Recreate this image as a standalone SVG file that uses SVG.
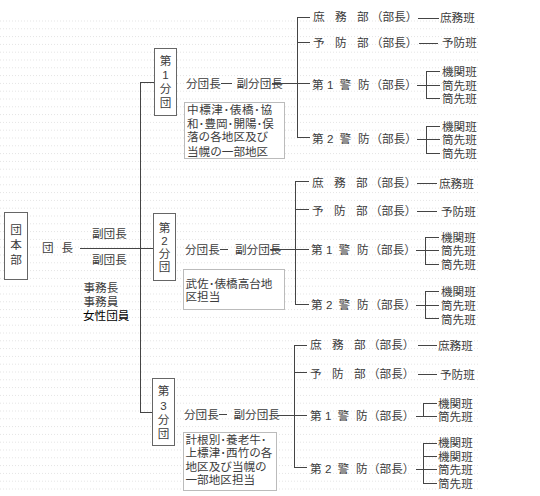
<svg xmlns="http://www.w3.org/2000/svg" width="540" height="496" viewBox="0 0 540 496">
<style>
.t{font-family:"Liberation Sans","Noto Sans CJK JP",sans-serif;font-size:11.6px;fill:#3c3c3c}
.k{fill:#000}
.m{text-anchor:middle}
.c{stroke:#444;stroke-width:1;fill:none}
.box{fill:#fff;stroke:#666;stroke-width:1}
.rbox{fill:#fff;stroke:#bbb;stroke-width:1}
</style>
<defs>
<pattern id="dots" x="0" y="20.5" width="3" height="7.8" patternUnits="userSpaceOnUse">
<rect x="0" y="0" width="1" height="1" fill="#e4e4e4"/>
</pattern>
</defs>
<rect x="0" y="0" width="540" height="496" fill="#fff"/>
<rect x="0" y="20" width="478" height="476" fill="url(#dots)"/>

<g id="connectors" class="c">
<line x1="80" y1="248.5" x2="153" y2="248.5"/>
<line x1="140.5" y1="82" x2="140.5" y2="413"/>
<line x1="140" y1="82.5" x2="154" y2="82.5"/>
<line x1="140" y1="412.5" x2="152" y2="412.5"/>
<line x1="221" y1="83.5" x2="232" y2="83.5"/>
<line x1="272" y1="83.5" x2="310" y2="83.5"/>
<line x1="297.5" y1="17" x2="297.5" y2="138"/>
<line x1="297" y1="17.5" x2="310" y2="17.5"/>
<line x1="297" y1="42.5" x2="310" y2="42.5"/>
<line x1="297" y1="137.5" x2="310" y2="137.5"/>
<line x1="418" y1="18.5" x2="439" y2="18.5"/>
<line x1="419" y1="43.5" x2="438" y2="43.5"/>
<line x1="417" y1="85.5" x2="440" y2="85.5"/>
<line x1="426.5" y1="71" x2="426.5" y2="99"/>
<line x1="426" y1="71.5" x2="440" y2="71.5"/>
<line x1="426" y1="98.5" x2="440" y2="98.5"/>
<line x1="417" y1="139.5" x2="440" y2="139.5"/>
<line x1="426.5" y1="126" x2="426.5" y2="154"/>
<line x1="426" y1="126.5" x2="440" y2="126.5"/>
<line x1="426" y1="153.5" x2="440" y2="153.5"/>
<line x1="220" y1="249.5" x2="228" y2="249.5"/>
<line x1="270" y1="249.5" x2="309" y2="249.5"/>
<line x1="295.5" y1="181" x2="295.5" y2="305"/>
<line x1="295" y1="181.5" x2="309" y2="181.5"/>
<line x1="295" y1="209.5" x2="309" y2="209.5"/>
<line x1="295" y1="304.5" x2="309" y2="304.5"/>
<line x1="417" y1="183.5" x2="437" y2="183.5"/>
<line x1="417" y1="211.5" x2="437" y2="211.5"/>
<line x1="416" y1="250.5" x2="439" y2="250.5"/>
<line x1="425.5" y1="237" x2="425.5" y2="265"/>
<line x1="425" y1="237.5" x2="439" y2="237.5"/>
<line x1="425" y1="264.5" x2="439" y2="264.5"/>
<line x1="416" y1="305.5" x2="439" y2="305.5"/>
<line x1="425.5" y1="291" x2="425.5" y2="319"/>
<line x1="425" y1="291.5" x2="439" y2="291.5"/>
<line x1="425" y1="318.5" x2="439" y2="318.5"/>
<line x1="219" y1="414.5" x2="227" y2="414.5"/>
<line x1="277" y1="415.5" x2="307" y2="415.5"/>
<line x1="294.5" y1="345" x2="294.5" y2="468"/>
<line x1="294" y1="345.5" x2="307" y2="345.5"/>
<line x1="294" y1="372.5" x2="307" y2="372.5"/>
<line x1="294" y1="467.5" x2="307" y2="467.5"/>
<line x1="418" y1="345.5" x2="437" y2="345.5"/>
<line x1="418" y1="374.5" x2="437" y2="374.5"/>
<line x1="416" y1="416.5" x2="437" y2="416.5"/>
<line x1="423.5" y1="403" x2="423.5" y2="417"/>
<line x1="423" y1="403.5" x2="437" y2="403.5"/>
<line x1="416" y1="469.5" x2="437" y2="469.5"/>
<line x1="423.5" y1="443" x2="423.5" y2="484"/>
<line x1="423" y1="443.5" x2="437" y2="443.5"/>
<line x1="423" y1="456.5" x2="437" y2="456.5"/>
<line x1="423" y1="483.5" x2="437" y2="483.5"/>
</g>

<g id="honbu">
<rect class="box" x="4.5" y="212.5" width="23" height="67"/>
<text class="t m"><tspan x="16" y="234.4">団</tspan><tspan x="16" y="249.4">本</tspan><tspan x="16" y="264.4">部</tspan></text>
</g>
<g id="danchou">
<text class="t" x="42 61.5" y="252.4">団長</text>
<text class="t" x="92" y="238.4">副団長</text>
<text class="t" x="92" y="264.4">副団長</text>
<text class="t"><tspan x="83.5" y="292.4">事務長</tspan><tspan x="83.5" y="306.4">事務員</tspan><tspan class="k" x="83" y="319.9">女性団員</tspan></text>
</g>

<g id="bundan1">
<rect class="box" x="154.5" y="48.5" width="22" height="67"/>
<text class="t m"><tspan x="165.5" y="65.4">第</tspan><tspan x="165.5" y="78.9">1</tspan><tspan x="165.5" y="93.4">分</tspan><tspan x="165.5" y="106.9">団</tspan></text>
</g>
<g id="bundan1-staff">
<text class="t" x="186" y="87.9">分団長</text>
<text class="t" x="236.5" y="87.9">副分団長</text>
</g>
<g id="bundan1-area">
<rect class="rbox" x="184.5" y="102.5" width="100" height="56"/>
<text class="t"><tspan x="187" y="114.4" textLength="85" lengthAdjust="spacing">中標津･俵橋･協</tspan><tspan x="187" y="127.9">和･豊岡･開陽･俣</tspan><tspan x="187" y="141.4">落の各地区及び</tspan><tspan x="187" y="155.9">当幌の一部地区</tspan></text>
</g>
<g id="b1-shomu">
<text class="t" x="313 335 357 371" y="21.4">庶務部（部長）</text>
<text class="t" x="440" y="22.4">庶務班</text>
</g>
<g id="b1-yobou">
<text class="t" x="313 335 357 371" y="46.9">予防部（部長）</text>
<text class="t" x="442" y="47.4">予防班</text>
</g>
<g id="b1-keibou1">
<text class="t" x="312 327 339.5 358 370.5" y="88.9">第1警防（部長）</text>
<text class="t"><tspan x="442" y="76.4">機関班</tspan><tspan x="442" y="89.9">筒先班</tspan><tspan x="442" y="103.4">筒先班</tspan></text>
</g>
<g id="b1-keibou2">
<text class="t" x="312 327 339.5 358 370.5" y="142.9">第2警防（部長）</text>
<text class="t"><tspan x="442" y="130.9">機関班</tspan><tspan x="442" y="144.4">筒先班</tspan><tspan x="442" y="158.4">筒先班</tspan></text>
</g>

<g id="bundan2">
<rect class="box" x="153.5" y="213.5" width="22" height="67"/>
<text class="t m"><tspan x="164.5" y="231.9">第</tspan><tspan x="164.5" y="244.9">2</tspan><tspan x="164.5" y="258.4">分</tspan><tspan x="164.5" y="271.4">団</tspan></text>
</g>
<g id="bundan2-staff">
<text class="t" x="185" y="253.9">分団長</text>
<text class="t" x="235" y="253.9">副分団長</text>
</g>
<g id="bundan2-area">
<rect class="rbox" x="183.5" y="269.5" width="101" height="40"/>
<text class="t"><tspan x="185.5" y="287.9">武佐･俵橋高台地</tspan><tspan x="185.5" y="300.9">区担当</tspan></text>
</g>
<g id="b2-shomu">
<text class="t" x="312 334 356 370" y="186.9">庶務部（部長）</text>
<text class="t" x="439" y="187.9">庶務班</text>
</g>
<g id="b2-yobou">
<text class="t" x="312 334 356 370" y="214.9">予防部（部長）</text>
<text class="t" x="441" y="215.9">予防班</text>
</g>
<g id="b2-keibou1">
<text class="t" x="311 326 338.5 357 369.5" y="254.4">第1警防（部長）</text>
<text class="t"><tspan x="441" y="241.9">機関班</tspan><tspan x="441" y="255.4">筒先班</tspan><tspan x="441" y="268.9">筒先班</tspan></text>
</g>
<g id="b2-keibou2">
<text class="t" x="311 326 338.5 357 369.5" y="309.4">第2警防（部長）</text>
<text class="t"><tspan x="441" y="296.4">機関班</tspan><tspan x="441" y="310.4">筒先班</tspan><tspan x="441" y="323.9">筒先班</tspan></text>
</g>

<g id="bundan3">
<rect class="box" x="152.5" y="378.5" width="22" height="67"/>
<text class="t m"><tspan x="163.5" y="395.4">第</tspan><tspan x="163.5" y="409.9">3</tspan><tspan x="163.5" y="424.4">分</tspan><tspan x="163.5" y="437.9">団</tspan></text>
</g>
<g id="bundan3-staff">
<text class="t" x="184" y="418.9">分団長</text>
<text class="t" x="233.5" y="418.9">副分団長</text>
</g>
<g id="bundan3-area">
<rect class="rbox" x="183.5" y="432.5" width="93" height="58"/>
<text class="t"><tspan x="185.5" y="444.4">計根別･養老牛･</tspan><tspan x="185.5" y="457.4">上標津･西竹の各</tspan><tspan x="185.5" y="470.9">地区及び当幌の</tspan><tspan x="185.5" y="484.4">一部地区担当</tspan></text>
</g>
<g id="b3-shomu">
<text class="t" x="310 332 354 368" y="349.4">庶務部（部長）</text>
<text class="t" x="438" y="349.9">庶務班</text>
</g>
<g id="b3-yobou">
<text class="t" x="310 332 354 368" y="377.9">予防部（部長）</text>
<text class="t" x="440" y="378.9">予防班</text>
</g>
<g id="b3-keibou1">
<text class="t" x="310 325 337.5 356 368" y="419.9">第1警防（部長）</text>
<text class="t"><tspan x="438" y="407.9">機関班</tspan><tspan x="438" y="421.4">筒先班</tspan></text>
</g>
<g id="b3-keibou2">
<text class="t" x="310 325 337.5 356 368" y="472.9">第2警防（部長）</text>
<text class="t"><tspan x="438" y="447.4">機関班</tspan><tspan x="438" y="460.9">機関班</tspan><tspan x="438" y="474.4">筒先班</tspan><tspan x="438" y="487.9">筒先班</tspan></text>
</g>
</svg>
